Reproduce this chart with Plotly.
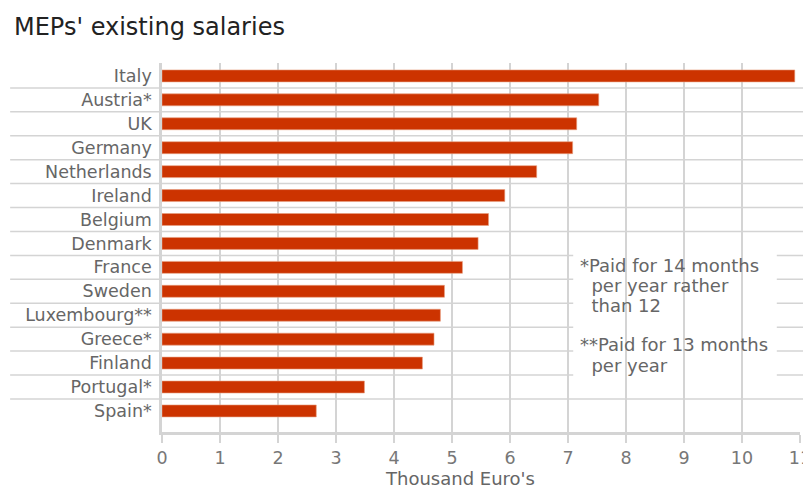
import plotly.graph_objects as go

countries = ["Italy", "Austria*", "UK", "Germany", "Netherlands", "Ireland", "Belgium",
             "Denmark", "France", "Sweden", "Luxembourg**", "Greece*", "Finland",
             "Portugal*", "Spain*"]
salaries = [10.91, 7.53, 7.15, 7.08, 6.46, 5.91, 5.63, 5.45, 5.18, 4.87, 4.80, 4.69,
            4.49, 3.49, 2.66]
x_ticks = list(range(0, 12))

title_text = "MEPs' existing salaries"
x_title = "Thousand Euro's"
note_lines = ["*Paid for 14 months", "\u00a0\u00a0per year rather", "\u00a0\u00a0than 12",
              "**Paid for 13 months", "\u00a0\u00a0per year"]
note_y = [0.450, 0.397, 0.344, 0.236, 0.180]

FONT = "DejaVu Sans"
GRID = "#d4d4d4"
BAR = "#cc3300"

fig = go.Figure()
fig.add_trace(go.Bar(
    x=salaries, y=countries, orientation="h",
    marker=dict(color=BAR, line=dict(color="#e8a080", width=0.6)),
    width=0.5, hoverinfo="x+y",
))

shapes = []
n = len(countries)
for k in range(n - 1):
    shapes.append(dict(type="line", xref="paper", yref="y",
                       x0=-0.238, x1=1.008, y0=k + 0.5, y1=k + 0.5,
                       line=dict(color=GRID, width=1.5), layer="below"))
# white box behind the footnote
shapes.append(dict(type="rect", xref="x", yref="y", x0=7.09, x1=10.6, y0=6.85, y1=13.1,
                   fillcolor="white", line=dict(width=0), layer="below"))

annotations = [
    dict(text=title_text, xref="paper", yref="paper", x=-0.235, y=1.0, xanchor="left",
         yanchor="bottom", yshift=20, showarrow=False, align="left",
         font=dict(size=24, color="#222222", family=FONT)),
    dict(text=x_title, xref="paper", yref="paper", x=0.467, y=-0.125, xanchor="center",
         yanchor="middle", showarrow=False,
         font=dict(size=18, color="#666666", family=FONT)),
]
for line, yy in zip(note_lines, note_y):
    annotations.append(dict(text=line, xref="paper", yref="paper", x=0.652, y=yy,
                            xanchor="left", yanchor="middle", showarrow=False, align="left",
                            font=dict(size=18, color="#666666", family=FONT)))

fig.update_layout(
    width=803, height=478,
    margin=dict(l=154, r=11, t=55, b=54),
    paper_bgcolor="white", plot_bgcolor="white",
    showlegend=False,
    bargap=0.5,
    shapes=shapes,
    annotations=annotations,
    font=dict(family=FONT, color="#666666"),
    xaxis=dict(
        range=[0, 11], tickvals=x_ticks, ticktext=[str(v) for v in x_ticks],
        showgrid=True, gridcolor=GRID, gridwidth=1.5,
        zeroline=False, showline=True, linecolor=GRID, linewidth=2.5,
        ticks="outside", ticklen=8, tickcolor=GRID, tickwidth=1.5,
        tickfont=dict(size=17.5, color="#777777", family=FONT),
        ticklabeloverflow="allow",
        automargin=False, fixedrange=True,
    ),
    yaxis=dict(
        categoryorder="array", categoryarray=countries,
        range=[14.88, -0.54],
        showgrid=False, zeroline=False, showline=True, linecolor=GRID, linewidth=2.5,
        ticks="", ticklabelstandoff=4,
        tickfont=dict(size=17.5, color="#666666", family=FONT),
        automargin=False, fixedrange=True,
    ),
)

fig.write_html("out.html")
